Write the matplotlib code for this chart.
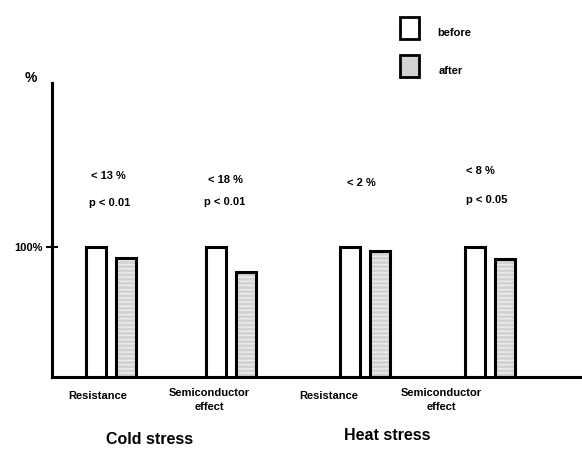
import matplotlib.pyplot as plt
import numpy as np

plt.rcParams['font.family'] = ['Liberation Sans', 'DejaVu Sans']
plt.rcParams['font.weight'] = 'bold'

# data (before = 100 %)
categories = ['Resistance', 'Semiconductor\neffect', 'Resistance', 'Semiconductor\neffect']
groups = ['Cold stress', 'Heat stress']
before = [100, 100, 100, 100]
after = [91.5, 80.8, 96.9, 90.8]
change_labels = ['< 13 %', '< 18 %', '< 2 %', '< 8 %']
p_labels = ['p < 0.01', 'p < 0.01', '', 'p < 0.05']

W, H = 582, 457


def px(x, y):
    # pixel position -> figure fraction
    return x / W, 1 - y / H


fig = plt.figure(figsize=(W / 100, H / 100), dpi=100)
ax = fig.add_axes([52 / W, (H - 377) / H, (W - 52) / W, (377 - 83) / H])

pos = np.array([0, 1, 2.12, 3.16])
w = 0.165
off = 0.125

ax.bar(pos - off, before, w, color='white', edgecolor='black', linewidth=2.2)
ax.bar(pos + off, after, w, color='#d2d2d2', edgecolor='#ededed', hatch='----', linewidth=0)
ax.bar(pos + off, after, w, fill=False, edgecolor='black', linewidth=2.2)

ax.set_xlim(-0.49, 3.925)
ax.set_ylim(0, 226)
ax.spines[['top', 'right']].set_visible(False)
ax.spines[['left', 'bottom']].set_linewidth(2.2)
ax.set_xticks([])
ax.set_yticks([100])
ax.set_yticklabels(['100%'], fontsize=8, fontweight='bold')
ax.tick_params(axis='y', direction='inout', length=8, width=1.5, pad=3)

# significance annotations
chg_y = [176, 180, 183, 171]
p_y = [203, 202, 200, 200]
chg_x = [108, 225, 361, 480]
p_x = [110, 225, 361, 487]
for i in range(4):
    fig.text(*px(chg_x[i], chg_y[i]), change_labels[i], ha='center', va='center', fontsize=8)
    if p_labels[i]:
        fig.text(*px(p_x[i], p_y[i]), p_labels[i], ha='center', va='center', fontsize=8)

# category labels
lab_x = [98, 209, 329, 441]
lab_y = [396, 400, 396, 400]
for i, c in enumerate(categories):
    fig.text(*px(lab_x[i], lab_y[i]), c, ha='center', va='center', fontsize=8, linespacing=1.45)

fig.text(*px(150, 440), groups[0], ha='center', va='center', fontsize=11.5)
fig.text(*px(387, 436), groups[1], ha='center', va='center', fontsize=11.5)

fig.text(*px(31, 78), '%', ha='center', va='center', fontsize=10)

# legend boxes drawn by hand
for yy, lbl, face in [(28, 'before', 'white'), (66, 'after', '#d2d2d2')]:
    x0, y0 = px(400, yy + 11)
    x1, y1 = px(419, yy - 11)
    fig.patches.append(plt.Rectangle((x0, y0), x1 - x0, y1 - y0, transform=fig.transFigure,
                                     facecolor=face, edgecolor='black', linewidth=2))
    fig.text(*px(437 if lbl == 'before' else 439, yy + 5), lbl, ha='left', va='center', fontsize=8)

fig.savefig('out.png', dpi=100)
